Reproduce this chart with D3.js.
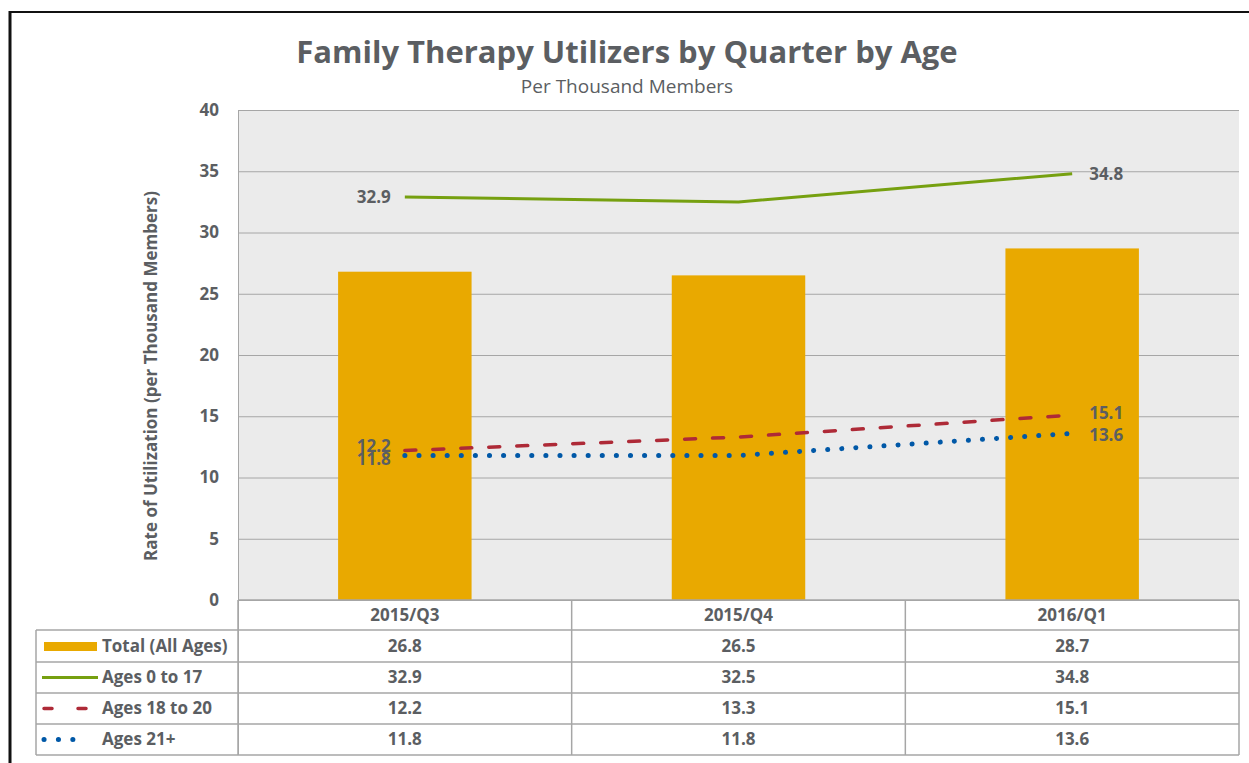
<!DOCTYPE html>
<html>
<head>
<meta charset="utf-8">
<script src="https://cdn.jsdelivr.net/npm/d3@7"></script>
<style>
  body { margin: 0; background: #fff; }
  svg { display: block; font-family: "Open Sans", sans-serif; }
</style>
</head>
<body>
<svg id="chart" width="1249" height="763"></svg>
<script>
// chart values
const quarters = ["2015/Q3", "2015/Q4", "2016/Q1"];
const totalAll = [26.8, 26.5, 28.7];
const ages0to17 = [32.9, 32.5, 34.8];
const ages18to20 = [12.2, 13.3, 15.1];
const ages21plus = [11.8, 11.8, 13.6];
const yTicks = [0, 5, 10, 15, 20, 25, 30, 35, 40];

const textColor = "#5b5e62";
const plot = { left: 238, right: 1239, top: 110, bottom: 600 };

const svg = d3.select("#chart");

// outer frame
svg.append("line").attr("x1", 10).attr("x2", 10).attr("y1", 11).attr("y2", 763)
    .attr("stroke", "#111").attr("stroke-width", 3);
svg.append("line").attr("x1", 9).attr("x2", 1249).attr("y1", 12).attr("y2", 12)
    .attr("stroke", "#111").attr("stroke-width", 2);

const xBand = d3.scaleBand().domain(quarters).range([plot.left, plot.right]);
const y = d3.scaleLinear().domain([0, 40]).range([plot.bottom, plot.top]);
const cx = i => xBand(quarters[i]) + xBand.bandwidth() / 2;
const barW = xBand.bandwidth() * 0.4;

// title
svg.append("text").attr("x", 627).attr("y", 63).attr("text-anchor", "middle")
    .attr("font-size", 31).attr("font-weight", "bold").attr("fill", textColor)
    .text("Family Therapy Utilizers by Quarter by Age");
svg.append("text").attr("x", 627).attr("y", 93).attr("text-anchor", "middle")
    .attr("font-size", 19).attr("fill", textColor)
    .text("Per Thousand Members");

// plot background
svg.append("rect").attr("x", plot.left).attr("y", plot.top)
    .attr("width", plot.right - plot.left).attr("height", plot.bottom - plot.top)
    .attr("fill", "#ebebeb");

// gridlines
svg.append("g").selectAll("line").data(yTicks).join("line")
    .attr("x1", plot.left).attr("x2", plot.right)
    .attr("y1", d => y(d) + 0.5).attr("y2", d => y(d) + 0.5)
    .attr("stroke", "#a6a6a6").attr("stroke-width", 1);
svg.append("line").attr("x1", plot.left + 0.5).attr("x2", plot.left + 0.5)
    .attr("y1", plot.top).attr("y2", 755).attr("stroke", "#a6a6a6");

// y axis
const yAxis = svg.append("g").attr("transform", `translate(${plot.left - 19},0)`)
    .call(d3.axisLeft(y).tickValues(yTicks).tickSize(0).tickPadding(0));
yAxis.select(".domain").remove();
yAxis.selectAll("text").attr("font-size", 17).attr("font-weight", "bold")
    .attr("fill", textColor).attr("font-family", "'Open Sans', sans-serif");

svg.append("text")
    .attr("transform", "translate(151,376) rotate(-90)")
    .attr("text-anchor", "middle").attr("dy", "0.35em")
    .attr("font-size", 17).attr("font-weight", "bold")
    .attr("fill", textColor)
    .text("Rate of Utilization (per Thousand Members)");

// bars
svg.append("g").selectAll("rect").data(totalAll).join("rect")
    .attr("x", (d, i) => cx(i) - barW / 2)
    .attr("y", d => y(d))
    .attr("width", barW)
    .attr("height", d => y(0) - y(d))
    .attr("fill", "#e9a900");

const line = d3.line().x((d, i) => cx(i)).y(d => y(d));

const series = [
    { name: "Ages 0 to 17", values: ages0to17, color: "#76a010", width: 3, dash: null, keyDash: null, cap: "butt" },
    { name: "Ages 18 to 20", values: ages18to20, color: "#ae2a37", width: 3.5, dash: "11,17", keyDash: "8,26", cap: "round" },
    { name: "Ages 21+", values: ages21plus, color: "#0058a7", width: 5, dash: "0.1,14", keyDash: "0.1,14.3", cap: "round" }
];

svg.append("g").selectAll("path").data(series).join("path")
    .attr("d", d => line(d.values))
    .attr("fill", "none")
    .attr("stroke", d => d.color)
    .attr("stroke-width", d => d.width)
    .attr("stroke-dasharray", d => d.dash)
    .attr("stroke-linecap", d => d.cap);

// data labels: first value on the left, last value on the right
const lbl = svg.append("g").attr("font-size", 17).attr("font-weight", "bold").attr("fill", textColor);
series.forEach((s, k) => {
    const off = k === 0 ? 0 : (k === 1 ? -5 : 4);
    lbl.append("text").attr("x", cx(0) - 14).attr("y", y(s.values[0]) + off)
        .attr("dy", "0.35em").attr("text-anchor", "end").text(s.values[0].toFixed(1));
    const offR = k === 0 ? 0 : (k === 1 ? -2 : 2);
    lbl.append("text").attr("x", cx(2) + 17).attr("y", y(s.values[2]) + offR)
        .attr("dy", "0.35em").attr("text-anchor", "start").text(s.values[2].toFixed(1));
});

// data table
const rowTops = [600, 630, 662, 693, 724, 755];
const tableLeft = 36;
const grid = svg.append("g").attr("stroke", "#a6a6a6").attr("stroke-width", 1.5);
rowTops.forEach((t, i) => {
    grid.append("line").attr("x1", i === 0 ? plot.left : tableLeft).attr("x2", plot.right)
        .attr("y1", t).attr("y2", t);
});
[plot.left, ...quarters.map(q => xBand(q) + xBand.bandwidth())].forEach(v => {
    grid.append("line").attr("x1", v).attr("x2", v).attr("y1", rowTops[0]).attr("y2", rowTops[5]);
});
grid.append("line").attr("x1", tableLeft).attr("x2", tableLeft).attr("y1", rowTops[1]).attr("y2", rowTops[5]);

const tbl = svg.append("g").attr("font-size", 17).attr("font-weight", "bold").attr("fill", textColor)
    .attr("text-anchor", "middle");
quarters.forEach((q, i) => {
    tbl.append("text").attr("x", cx(i)).attr("y", (rowTops[0] + rowTops[1]) / 2).attr("dy", "0.35em").text(q);
});
const rows = [
    { name: "Total (All Ages)", values: totalAll },
    ...series
];
rows.forEach((r, k) => {
    const mid = (rowTops[k + 1] + rowTops[k + 2]) / 2;
    r.values.forEach((v, i) => {
        tbl.append("text").attr("x", cx(i)).attr("y", mid).attr("dy", "0.35em").text(v.toFixed(1));
    });
    tbl.append("text").attr("x", 102).attr("y", mid).attr("dy", "0.35em")
        .attr("text-anchor", "start").text(r.name);
});

// legend keys in the table
const key = svg.append("g");
const keyMid = k => (rowTops[k + 1] + rowTops[k + 2]) / 2;
key.append("rect").attr("x", 44).attr("y", keyMid(0) - 4).attr("width", 53).attr("height", 9).attr("fill", "#e9a900");
series.forEach((s, k) => {
    key.append("line").attr("x1", k === 0 ? 42 : 44).attr("x2", k === 0 ? 98 : 87)
        .attr("y1", keyMid(k + 1)).attr("y2", keyMid(k + 1))
        .attr("stroke", s.color).attr("stroke-width", s.width)
        .attr("stroke-dasharray", s.keyDash).attr("stroke-linecap", s.cap);
});
</script>
</body>
</html>
